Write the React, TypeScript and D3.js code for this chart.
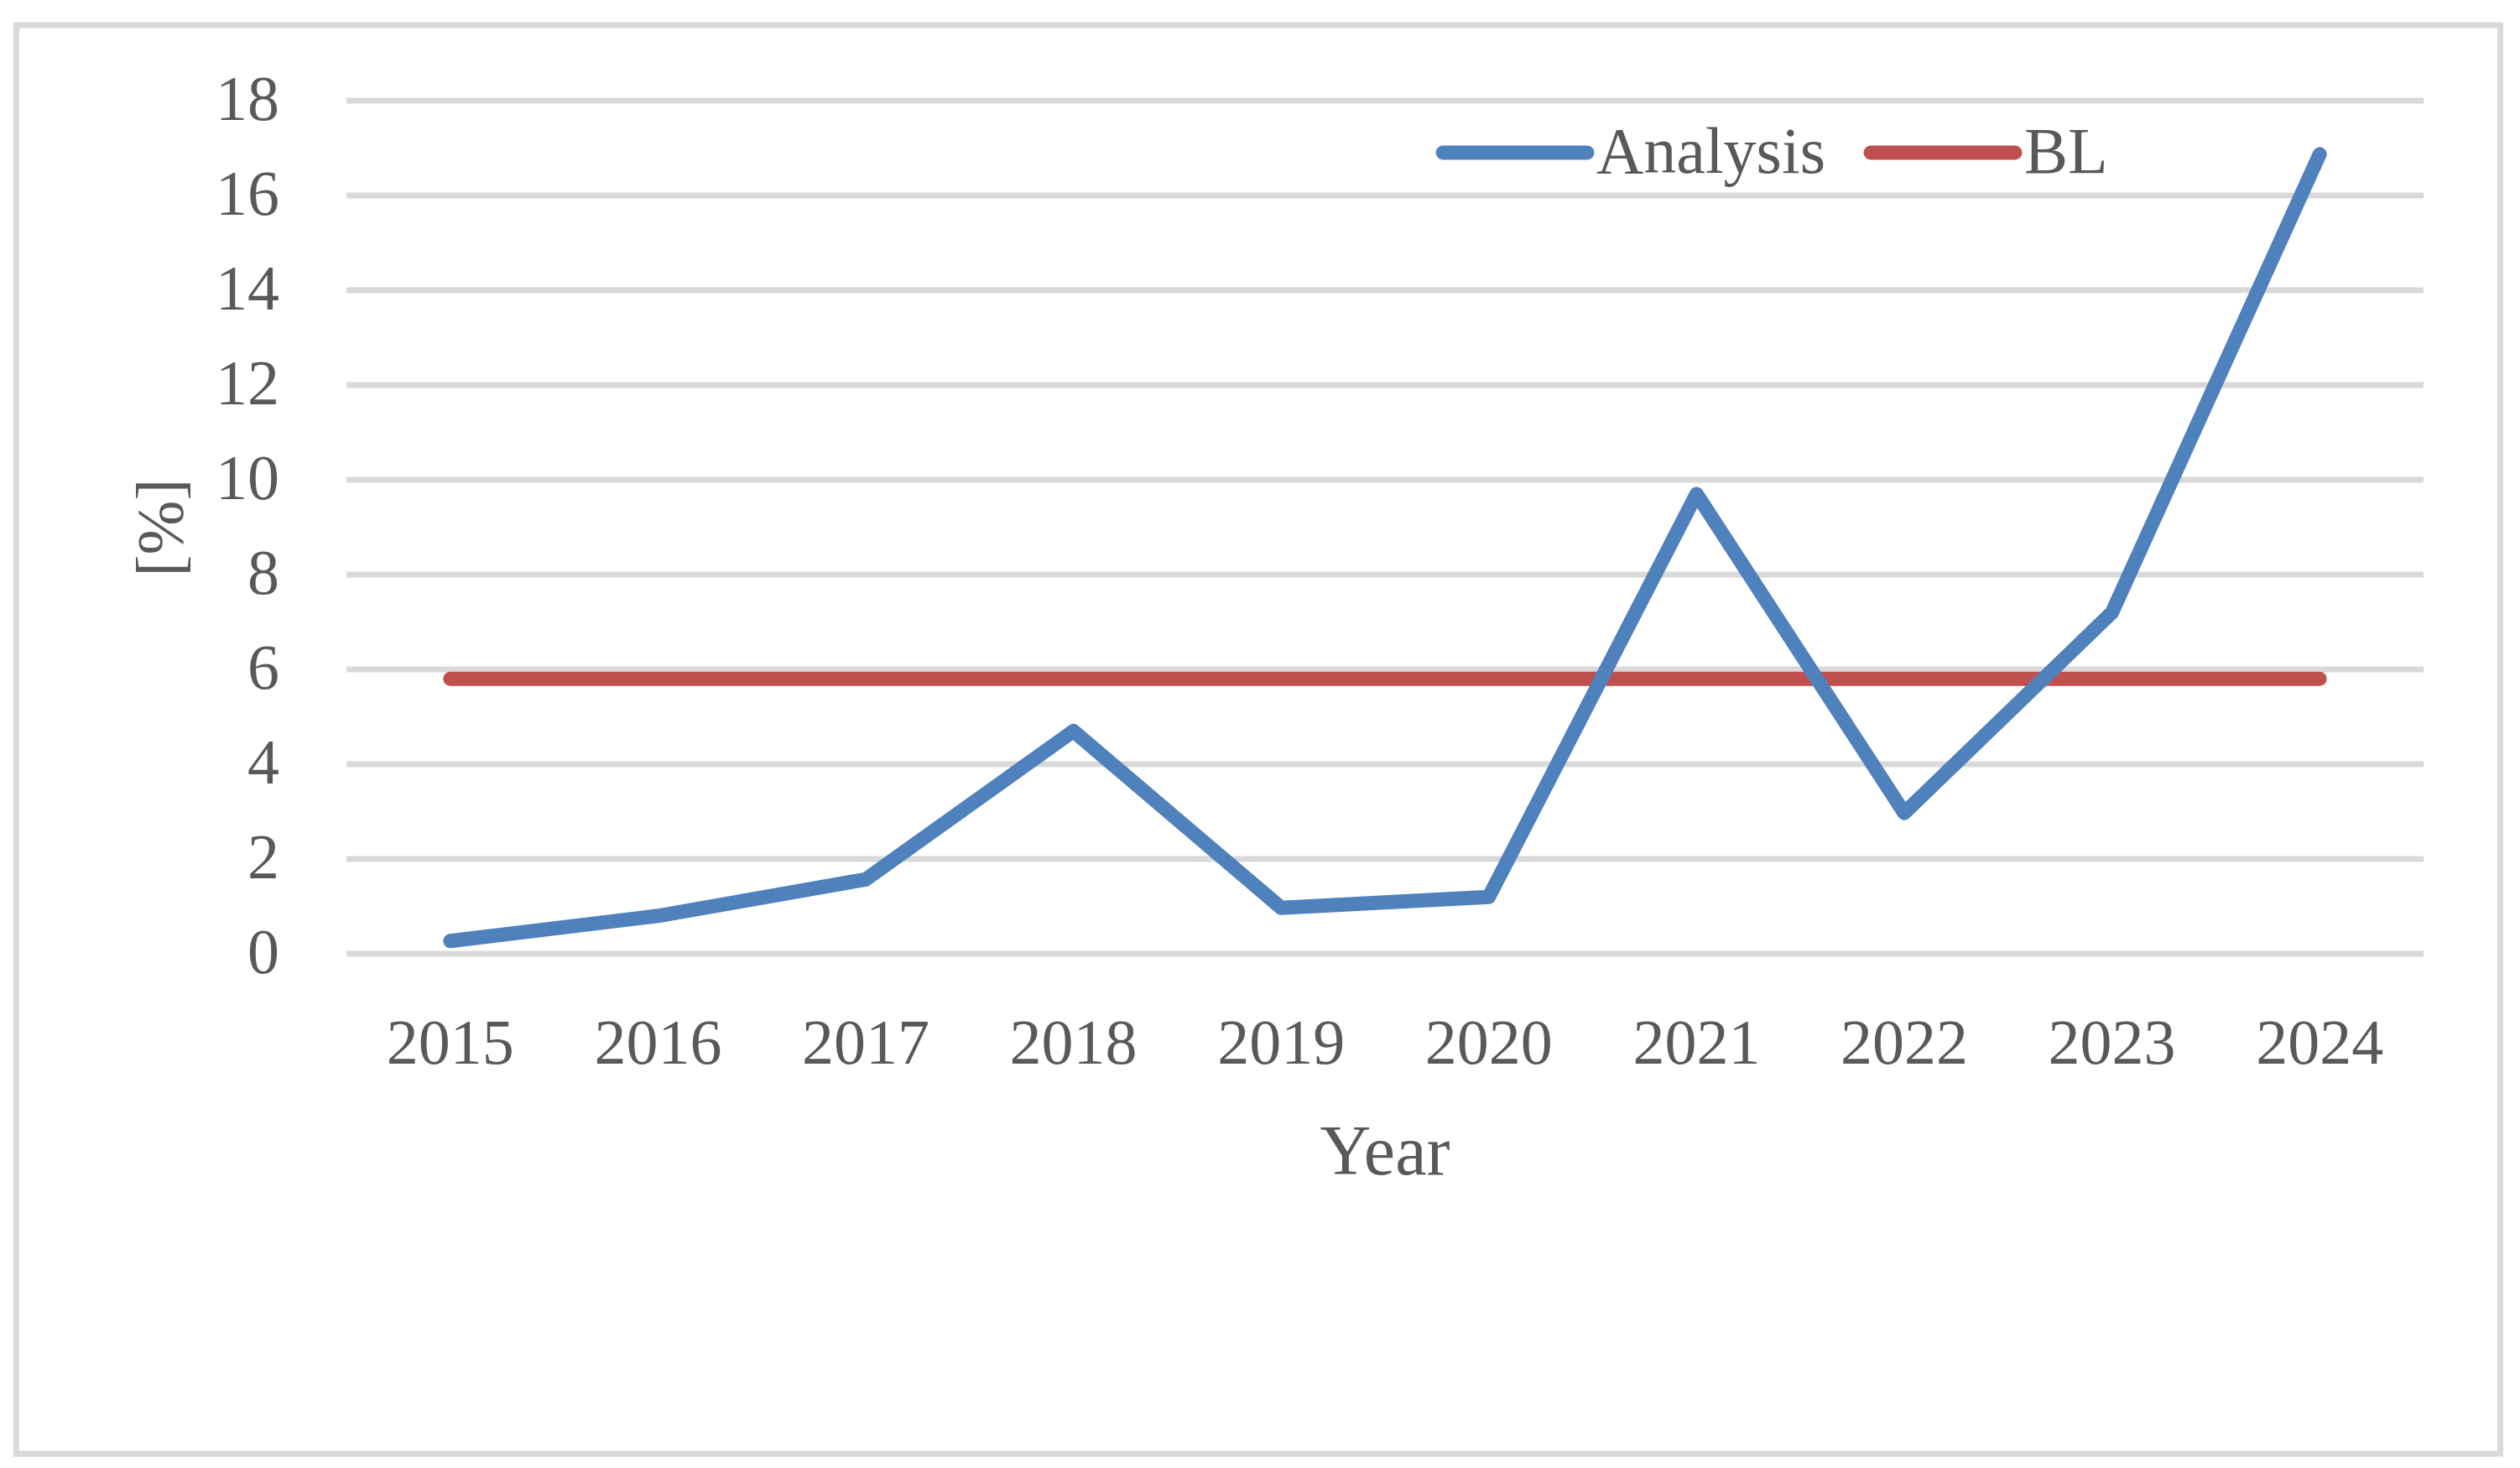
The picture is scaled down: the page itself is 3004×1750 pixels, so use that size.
import React, { useRef, useEffect } from 'react';
import * as d3 from 'd3';

const years = ['2015', '2016', '2017', '2018', '2019', '2020', '2021', '2022', '2023', '2024'];
const analysis = [0.27, 0.8, 1.57, 4.7, 0.97, 1.2, 9.7, 2.97, 7.2, 16.87];
const baseline = [5.8, 5.8, 5.8, 5.8, 5.8, 5.8, 5.8, 5.8, 5.8, 5.8];
const yTicks = [0, 2, 4, 6, 8, 10, 12, 14, 16, 18];
const legendItems = [
    { name: 'Analysis', color: '#4F81BD' },
    { name: 'BL', color: '#C0504D' },
];

const FONT = '"Palatino Linotype", "Book Antiqua", Palatino, "Liberation Serif", serif';
const TEXT = '#595959';
const GRID = '#D9D9D9';

const App = () => {
    const svgRef = useRef<SVGSVGElement>(null);

    useEffect(() => {
        d3.select(svgRef.current).selectAll('*').remove();

        const w = 3004;
        const h = 1750;
        const left = 413;
        const right = 2889;
        const top = 120;
        const bottom = 1137;

        const svg = d3.select(svgRef.current)
            .attr('width', w)
            .attr('height', h);

        svg.append('rect')
            .attr('width', w).attr('height', h)
            .attr('fill', '#fff');

        // outer chart border
        svg.append('rect')
            .attr('x', 19.5).attr('y', 30)
            .attr('width', 2961).attr('height', 1703)
            .attr('fill', 'none')
            .attr('stroke', GRID)
            .attr('stroke-width', 7);

        const x = d3.scaleBand().domain(years).range([left, right]);
        const y = d3.scaleLinear().domain([0, 18]).range([bottom, top]);
        const cx = (d: string) => (x(d) ?? 0) + x.bandwidth() / 2;

        // gridlines
        svg.append('g')
            .selectAll('line')
            .data(yTicks)
            .join('line')
            .attr('x1', left).attr('x2', right)
            .attr('y1', d => y(d)).attr('y2', d => y(d))
            .attr('stroke', GRID)
            .attr('stroke-width', 7);

        // y tick labels
        svg.append('g')
            .selectAll('text')
            .data(yTicks)
            .join('text')
            .text(d => d)
            .attr('x', 333)
            .attr('y', d => y(d) + 23)
            .attr('text-anchor', 'end')
            .attr('font-family', FONT)
            .attr('font-size', 76)
            .attr('fill', TEXT);

        // x tick labels
        svg.append('g')
            .selectAll('text')
            .data(years)
            .join('text')
            .text(d => d)
            .attr('x', d => cx(d))
            .attr('y', 1268)
            .attr('text-anchor', 'middle')
            .attr('font-family', FONT)
            .attr('font-size', 76)
            .attr('fill', TEXT);

        // axis titles
        svg.append('text')
            .text('Year')
            .attr('x', (left + right) / 2)
            .attr('y', 1400)
            .attr('text-anchor', 'middle')
            .attr('font-family', FONT)
            .attr('font-size', 84)
            .attr('fill', TEXT);

        svg.append('text')
            .text('[%]')
            .attr('transform', 'translate(217,629) rotate(-90)')
            .attr('text-anchor', 'middle')
            .attr('font-family', FONT)
            .attr('font-size', 78)
            .attr('fill', TEXT);

        const line = d3.line<number>()
            .x((_, i) => cx(years[i]))
            .y(d => y(d));

        [baseline, analysis].forEach((series, i) => {
            svg.append('path')
                .datum(series)
                .attr('d', line)
                .attr('fill', 'none')
                .attr('stroke', i === 0 ? legendItems[1].color : legendItems[0].color)
                .attr('stroke-width', 17)
                .attr('stroke-linecap', 'round')
                .attr('stroke-linejoin', 'round');
        });

        // legend
        const legendX = [1720, 2230];
        const lg = svg.append('g')
            .selectAll('g')
            .data(legendItems)
            .join('g')
            .attr('transform', (_, i) => `translate(${legendX[i]},182)`);

        lg.append('line')
            .attr('x1', 0).attr('x2', 172)
            .attr('stroke', d => d.color)
            .attr('stroke-width', 17)
            .attr('stroke-linecap', 'round');

        lg.append('text')
            .text(d => d.name)
            .attr('x', 183)
            .attr('y', 24)
            .attr('font-family', FONT)
            .attr('font-size', 78)
            .attr('fill', TEXT);

    }, []);

    return (
        <svg ref={svgRef} style={{ position: 'absolute', left: 0, top: 0 }}></svg>
    );
};

export default App;
